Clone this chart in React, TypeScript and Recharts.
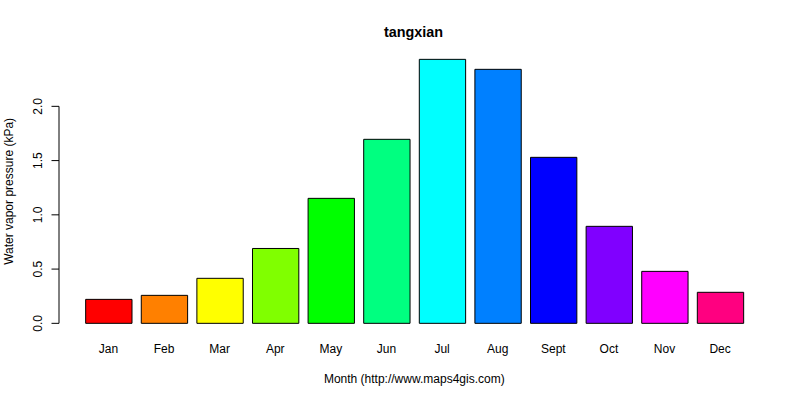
import { BarChart, Bar, Cell, XAxis, YAxis, ReferenceLine } from 'recharts';

const months = ['Jan', 'Feb', 'Mar', 'Apr', 'May', 'Jun', 'Jul', 'Aug', 'Sept', 'Oct', 'Nov', 'Dec'];
const pressure = [0.221, 0.258, 0.415, 0.69, 1.152, 1.696, 2.433, 2.341, 1.53, 0.894, 0.479, 0.286];
const barColors = [
  '#FF0000', '#FF8000', '#FFFF00', '#80FF00', '#00FF00', '#00FF80',
  '#00FFFF', '#0080FF', '#0000FF', '#8000FF', '#FF00FF', '#FF0080',
];
const yTicks = [0, 0.5, 1, 1.5, 2];

const data = months.map((month, i) => ({ month, value: pressure[i] }));

const font = '"Liberation Sans", Arial, sans-serif';

// R pads the value range by 4% on both ends
const yMax = Math.max(...pressure);
const yDomain = [-0.04 * yMax, yMax * 1.04];

const MonthTick = (props: any) => {
  const { x, y, payload } = props;
  return (
    <text x={x} y={y + 19} textAnchor="middle" fontSize={12} fontFamily={font} fill="#000">
      {payload.value}
    </text>
  );
};

const ValueTick = (props: any) => {
  const { x, y, payload } = props;
  const lx = x - 16.5;
  return (
    <g>
      <line x1={x - 7.5} y1={y} x2={x} y2={y} stroke="#000" strokeWidth={1} />
      <text
        x={lx}
        y={y}
        transform={`rotate(-90, ${lx}, ${y})`}
        textAnchor="middle"
        fontSize={12}
        fontFamily={font}
        fill="#000"
      >
        {payload.value.toFixed(1)}
      </text>
    </g>
  );
};

export default function App() {
  return (
    <div style={{ position: 'absolute', left: 0, top: 0, width: 800, height: 400, background: '#fff' }}>
      <BarChart
        width={800}
        height={400}
        data={data}
        margin={{ top: 48.8, right: 30.4, bottom: 0, left: 0 }}
      >
        <XAxis
          dataKey="month"
          height={66.1}
          padding={{ left: 21.67, right: 21.67 }}
          axisLine={false}
          tickLine={false}
          tickSize={0}
          tickMargin={0}
          interval={0}
          tick={<MonthTick />}
        />
        <XAxis xAxisId="pos" type="number" domain={[0, 1]} hide />
        <YAxis
          width={59}
          type="number"
          domain={yDomain}
          ticks={yTicks}
          axisLine={false}
          tickLine={false}
          tickSize={0}
          tickMargin={0}
          tick={<ValueTick />}
        />
        <ReferenceLine
          xAxisId="pos"
          segment={[{ x: 0, y: 0 }, { x: 0, y: 2 }]}
          stroke="#000"
          strokeWidth={1}
        />
        <Bar dataKey="value" barSize={46.34} stroke="#000" strokeWidth={1} isAnimationActive={false}>
          {data.map((d, i) => (
            <Cell key={d.month} fill={barColors[i]} />
          ))}
        </Bar>
      </BarChart>
      <svg width={800} height={400} style={{ position: 'absolute', left: 0, top: 0, pointerEvents: 'none' }}>
        <text x={413.5} y={36.7} textAnchor="middle" fontSize={14.4} fontWeight="bold" fontFamily={font} fill="#000">
          tangxian
        </text>
        <text x={414.3} y={382.7} textAnchor="middle" fontSize={12} fontFamily={font} fill="#000">
          Month (http://www.maps4gis.com)
        </text>
        <text
          x={13}
          y={191.4}
          transform="rotate(-90, 13, 191.4)"
          textAnchor="middle"
          fontSize={12}
          fontFamily={font}
          fill="#000"
        >
          Water vapor pressure (kPa)
        </text>
      </svg>
    </div>
  );
}
